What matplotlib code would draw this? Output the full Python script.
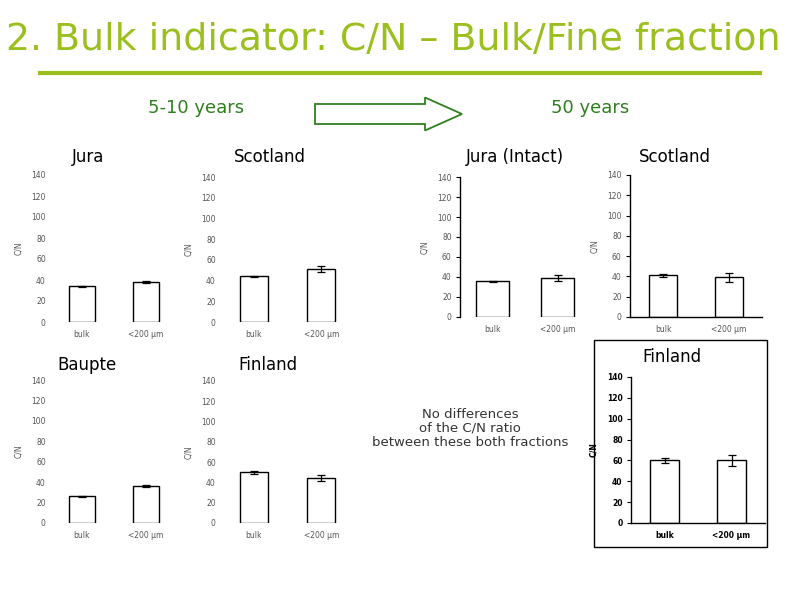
import matplotlib
matplotlib.use("Agg")
import matplotlib.pyplot as plt
from matplotlib.patches import FancyArrow

categories = ["bulk", "<200 µm"]
yticks = [0, 20, 40, 60, 80, 100, 120, 140]

jura_5 = [34, 38]
jura_5_err = [0.5, 1.0]
scot_5 = [44, 51]
scot_5_err = [0.6, 3.0]
jura_50 = [36, 39]
jura_50_err = [0.5, 3.0]
scot_50 = [41, 39]
scot_50_err = [1.5, 4.0]
baupte_5 = [26, 36]
baupte_5_err = [0.3, 1.0]
fin_5 = [50, 44]
fin_5_err = [1.5, 3.0]
fin_50 = [60, 60]
fin_50_err = [2.0, 5.0]

W, H = 791, 597
fig = plt.figure(figsize=(W / 100, H / 100), dpi=100)
fig.patch.set_facecolor("white")

def px_axes(left, top, right, bottom):
    return fig.add_axes([left / W, 1 - bottom / H, (right - left) / W, (bottom - top) / H])

def bar_chart(box, vals, errs, spines=("left", "bottom"), bold=False, bw=0.42):
    ax = px_axes(*box)
    x = list(range(len(categories)))
    ax.bar(x, vals, width=bw, color="white", edgecolor="black", linewidth=1.0)
    ax.errorbar(x, vals, yerr=errs, fmt="none", ecolor="black", elinewidth=0.9, capsize=3, capthick=0.9)
    ax.set_xlim(-0.5, 1.5)
    ax.set_ylim(0, 140)
    ax.set_yticks(yticks)
    ax.set_xticks(x)
    ax.set_xticklabels(categories)
    col = "black" if bold else "#555555"
    wt = "bold" if bold else "normal"
    ax.tick_params(axis="y", labelsize=5.5, length=3 if "left" in spines else 0, pad=3, labelcolor=col)
    ax.tick_params(axis="x", labelsize=5.5, length=0, pad=6, labelcolor=col)
    for lab in ax.get_yticklabels() + ax.get_xticklabels():
        lab.set_fontweight(wt)
    ax.set_ylabel("C/N", fontsize=5.5, color=col, labelpad=6, fontweight=wt)
    for s in ["top", "right", "left", "bottom"]:
        ax.spines[s].set_visible(s in spines)
        ax.spines[s].set_linewidth(1.0)
    ax.patch.set_alpha(0)
    return ax

bar_chart((50, 175, 178, 322), jura_5, jura_5_err, spines=())
bar_chart((220, 177, 355, 322), scot_5, scot_5_err, spines=())
bar_chart((460, 177, 590, 317), jura_50, jura_50_err, spines=("left",), bw=0.5)
bar_chart((630, 175, 762, 317), scot_50, scot_50_err, spines=("left", "bottom"))
bar_chart((50, 380, 178, 523), baupte_5, baupte_5_err, spines=())
bar_chart((220, 381, 355, 523), fin_5, fin_5_err, spines=())
bar_chart((631, 377, 765, 523), fin_50, fin_50_err, spines=("left", "bottom"), bold=True)

def ftext(x, y, s, **kw):
    fig.text(x / W, 1 - y / H, s, **kw)

green = "#9ABF1E"
dgreen = "#2F7F1F"
ftext(6, 40, "2. Bulk indicator: C/N – Bulk/Fine fraction", fontsize=27.3, color=green,
      ha="left", va="center")
fig.add_artist(plt.Line2D([40 / W, 760 / W], [1 - 73 / H, 1 - 73 / H], color=green, linewidth=3))

ftext(196, 108, "5-10 years", fontsize=13, color=dgreen, ha="center", va="center")
ftext(590, 108, "50 years", fontsize=13, color=dgreen, ha="center", va="center")
fig.add_artist(FancyArrow(315 / W, 1 - 114 / H, 110 / W, 0, width=20 / H, head_width=33 / H,
                          head_length=37 / W, length_includes_head=False,
                          facecolor="white", edgecolor=dgreen, linewidth=1.3,
                          transform=fig.transFigure))

titles = [(88, 157, "Jura"), (270, 157, "Scotland"), (515, 157, "Jura (Intact)"),
          (675, 157, "Scotland"), (87, 365, "Baupte"), (268, 365, "Finland"),
          (672, 357, "Finland")]
for x, y, s in titles:
    ftext(x, y, s, fontsize=12, color="black", ha="center", va="center")

ftext(470, 428, "No differences\nof the C/N ratio\nbetween these both fractions", fontsize=9.5,
      color="#333333", ha="center", va="center", linespacing=1.1)

fig.add_artist(plt.Rectangle((594 / W, 1 - 547 / H), (767 - 594) / W, (547 - 340) / H,
                             fill=False, edgecolor="black", linewidth=1.0, transform=fig.transFigure))

fig.savefig("out.png", dpi=100, facecolor="white")
